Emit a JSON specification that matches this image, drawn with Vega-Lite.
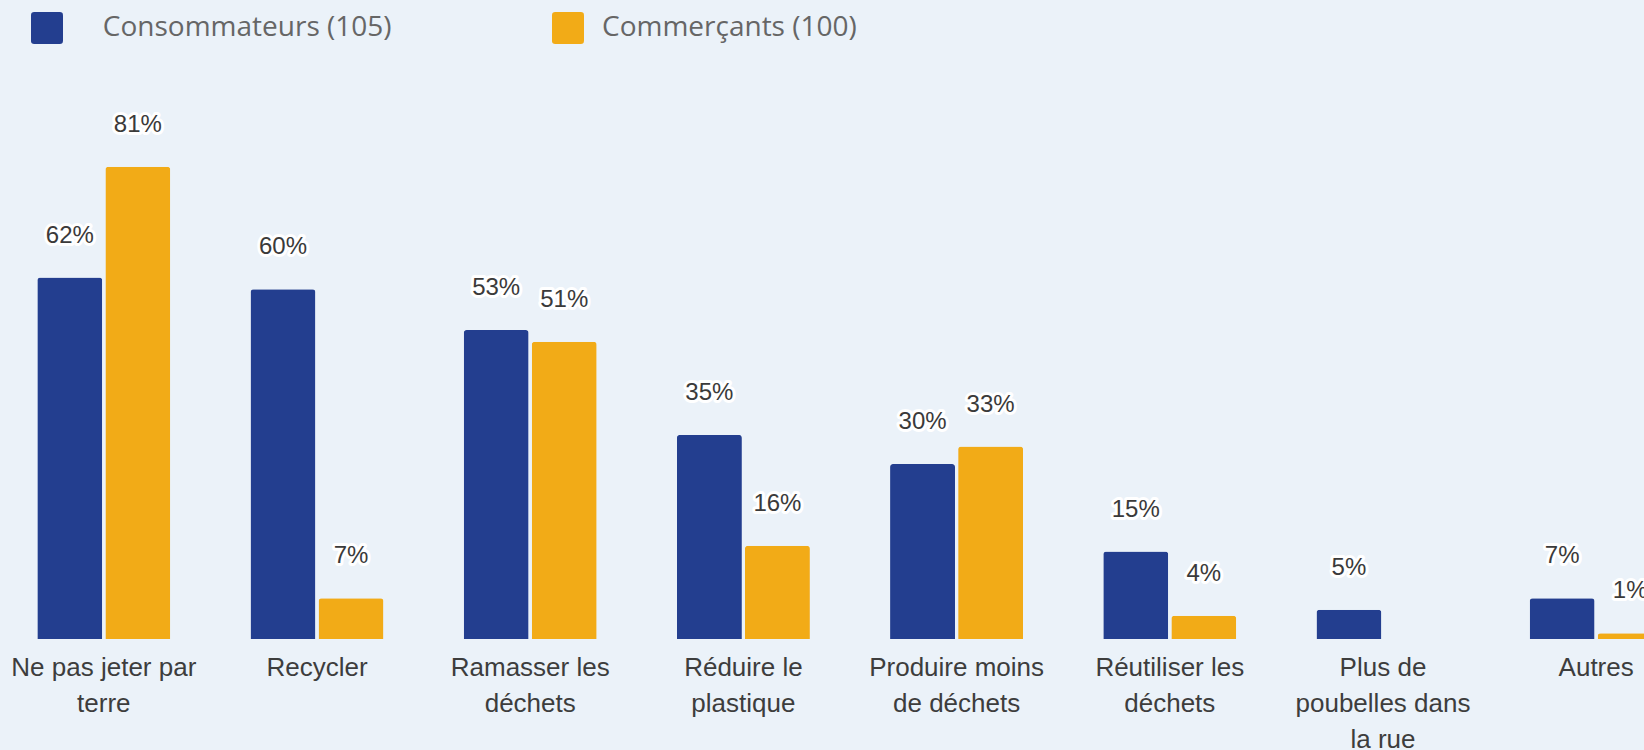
{
  "$schema": "https://vega.github.io/schema/vega-lite/v6.json",
  "width": 1700,
  "height": 583,
  "autosize": {"type": "none"},
  "padding": {"left": 0, "top": 56, "right": 0, "bottom": 111},
  "background": "#EBF2F9",
  "config": {"view": {"stroke": null}, "font": "Liberation Sans"},
  "data": {
    "values": [
      {"cat": "Ne pas jeter par|terre", "group": "Consommateurs (105)", "v": 0.62},
      {"cat": "Ne pas jeter par|terre", "group": "Commerçants (100)", "v": 0.81},
      {"cat": "Recycler", "group": "Consommateurs (105)", "v": 0.60},
      {"cat": "Recycler", "group": "Commerçants (100)", "v": 0.07},
      {"cat": "Ramasser les|déchets", "group": "Consommateurs (105)", "v": 0.53},
      {"cat": "Ramasser les|déchets", "group": "Commerçants (100)", "v": 0.51},
      {"cat": "Réduire le|plastique", "group": "Consommateurs (105)", "v": 0.35},
      {"cat": "Réduire le|plastique", "group": "Commerçants (100)", "v": 0.16},
      {"cat": "Produire moins|de déchets", "group": "Consommateurs (105)", "v": 0.30},
      {"cat": "Produire moins|de déchets", "group": "Commerçants (100)", "v": 0.33},
      {"cat": "Réutiliser les|déchets", "group": "Consommateurs (105)", "v": 0.15},
      {"cat": "Réutiliser les|déchets", "group": "Commerçants (100)", "v": 0.04},
      {"cat": "Plus de|poubelles dans|la rue", "group": "Consommateurs (105)", "v": 0.05},
      {"cat": "Autres", "group": "Consommateurs (105)", "v": 0.07},
      {"cat": "Autres", "group": "Commerçants (100)", "v": 0.01}
    ]
  },
  "encoding": {
    "x": {
      "field": "cat",
      "type": "nominal",
      "sort": null,
      "scale": {"paddingInner": 0.376, "paddingOuter": 0.175},
      "axis": {
        "title": null,
        "domain": false,
        "ticks": false,
        "labelAngle": 0,
        "labelFont": "Liberation Sans",
        "labelFontSize": 26,
        "labelColor": "#3d3d3d",
        "labelPadding": 15,
        "labelLineHeight": 36,
        "labelLimit": 400,
        "labelOverlap": false,
        "labelExpr": "split(datum.label, '|')"
      }
    },
    "xOffset": {
      "field": "group",
      "type": "nominal",
      "sort": ["Consommateurs (105)", "Commerçants (100)"],
      "scale": {"paddingInner": 0.045, "paddingOuter": 0}
    },
    "y": {
      "field": "v",
      "type": "quantitative",
      "scale": {"domain": [0, 1]},
      "axis": null
    }
  },
  "layer": [
    {
      "mark": {"type": "bar", "cornerRadiusTopLeft": 3, "cornerRadiusTopRight": 3},
      "encoding": {
        "color": {
          "field": "group",
          "type": "nominal",
          "sort": ["Consommateurs (105)", "Commerçants (100)"],
          "scale": {"domain": ["Consommateurs (105)", "Commerçants (100)"], "range": ["#233E8F", "#F2AB17"]},
          "legend": {
            "orient": "none",
            "legendX": 31,
            "legendY": -44,
            "direction": "horizontal",
            "title": null,
            "symbolType": "M -1 -0.8 Q -1 -1 -0.8 -1 L 0.8 -1 Q 1 -1 1 -0.8 L 1 0.8 Q 1 1 0.8 1 L -0.8 1 Q -1 1 -1 0.8 Z",
            "symbolSize": 1024,
            "symbolStrokeWidth": 0,
            "symbolOpacity": 1,
            "labelFont": "Open Sans",
            "labelFontSize": 28,
            "labelColor": "#666666",
            "labelOffset": 18,
            "labelBaseline": "middle",
            "labelExpr": "indexof(datum.label, 'Consommateurs') >= 0 ? '\u200b\u00a0\u00a0\u00a0' + datum.label : datum.label",
            "columnPadding": 160,
            "labelLimit": 500
          }
        }
      }
    },
    {
      "mark": {"type": "text", "dy": -42, "baseline": "middle", "fontSize": 24, "font": "Liberation Sans", "stroke": "#ffffff", "strokeWidth": 6, "strokeJoin": "round", "fill": "#ffffff"},
      "encoding": {"text": {"field": "v", "type": "quantitative", "format": ".0%"}}
    },
    {
      "mark": {"type": "text", "dy": -42, "baseline": "middle", "fontSize": 24, "font": "Liberation Sans", "fill": "#3a3a3a"},
      "encoding": {"text": {"field": "v", "type": "quantitative", "format": ".0%"}}
    }
  ]
}
